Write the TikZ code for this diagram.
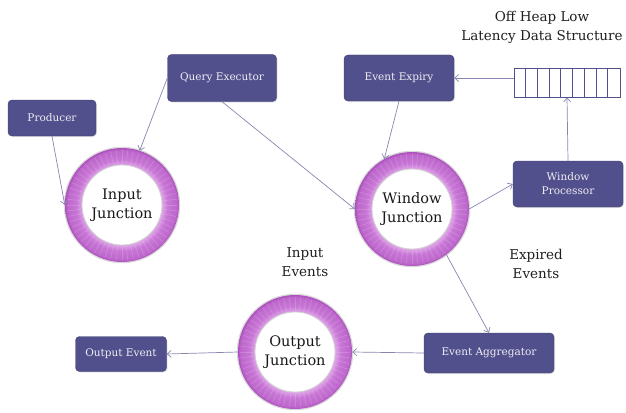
\documentclass[tikz,border=0pt]{standalone}
\usepackage{fontspec}
\setmainfont{DejaVu Serif}
\usepackage{xcolor}
\usetikzlibrary{arrows.meta,shadows}

\definecolor{boxblue}{RGB}{82,80,140}
\definecolor{boxedge}{RGB}{62,60,112}
\definecolor{linkgray}{RGB}{136,134,176}
\definecolor{ringdark}{RGB}{172,80,188}
\definecolor{ringmid}{RGB}{200,118,214}
\definecolor{ringlight}{RGB}{224,168,232}

\pgfdeclareradialshading{ringshade}{\pgfpoint{0bp}{0bp}}{color(0bp)=(white); color(17.5bp)=(ringlight); color(20bp)=(ringmid); color(24bp)=(ringmid!60!ringdark); color(25bp)=(ringdark); color(50bp)=(ringdark)}

\tikzset{
  box/.style={rounded corners=4pt, fill=boxblue, draw=boxedge, text=white!90!boxblue,
    font=\fontsize{10.5}{14}\selectfont, align=center, inner sep=2pt,
    drop shadow={opacity=0.2, shadow xshift=1pt, shadow yshift=-1pt}},
  link/.style={-{Straight Barb[length=4pt, width=7pt]}, draw=linkgray, line width=0.7pt},
  ringtext/.style={circle, minimum size=114, inner sep=0pt, align=center,
    font=\fontsize{14.5}{19}\selectfont, text=black!90},
  caption/.style={align=center, font=\fontsize{13.5}{19}\selectfont, text=black!88},
}

% ring with radial streaks, then the named node on top
\newcommand{\junction}[3]{%
  \draw[black!15, line width=1.5pt] (#2) circle (57.5);
  \shade[shading=ringshade, even odd rule] (#2) circle (57) circle (40);
  \foreach \a in {0,6,...,354}
    \draw[shift={(#2)}, white, opacity=.16, line width=.7pt] (\a:42) -- (\a:55);
  \fill[white] (#2) circle (40);
  \draw[black!18, line width=.8pt] (#2) circle (40);
  \node[ringtext] (#1) at (#2) {#3};
}

\begin{document}
\begin{tikzpicture}[x=1pt, y=-1pt]
  \useasboundingbox (0,0) rectangle (626,412);

  \junction{inj}{122,205}{Input\\Junction}
  \junction{winj}{412,209}{Window\\Junction}
  \junction{outj}{295,352}{Output\\Junction}

  \node[box, minimum width=88, minimum height=36] (prod) at (52,118) {Producer};
  \node[box, minimum width=109, minimum height=47] (qexec) at (222,78) {Query Executor};
  \node[box, minimum width=110, minimum height=46] (expiry) at (399,78) {Event Expiry};
  \node[box, minimum width=110, minimum height=46] (wproc) at (568,184) {Window\\Processor};
  \node[box, minimum width=130, minimum height=40] (aggr) at (489,353) {Event Aggregator};
  \node[box, minimum width=91, minimum height=35] (outev) at (121,354) {Output Event};

  % off heap buffer
  \node[draw=boxblue, line width=.8pt, minimum width=106, minimum height=29, inner sep=0pt] (buf) at (567,82.5) {};
  \foreach \i in {1,...,8}
    \draw[shift={(buf.north west)}, boxblue, line width=.8pt] (\i*11.78,0) -- ++(0,29);

  \node[caption] (title) at (542,27) {Off Heap Low\\Latency Data Structure};
  \node[caption] (inev) at (305,262) {Input\\Events};
  \node[caption] (expev) at (536,264) {Expired\\Events};

  \draw[link] (prod.south) -- (inj.west);
  \draw[link] (qexec.west) -- (inj.72);
  \draw[link] (qexec.south) -- (winj.west);
  \draw[link] (expiry.south) -- (winj.119);
  \draw[link] (expiry.east -| buf.west) -- (expiry.east);
  \draw[link] (wproc.north) -- (buf.south);
  \draw[link] (winj.east) -- (wproc.west);
  \draw[link] (winj.-53) -- (aggr.north);
  \draw[link] (aggr.west) -- (outj.east);
  \draw[link] (outj.west) -- (outev.east);
\end{tikzpicture}
\end{document}
